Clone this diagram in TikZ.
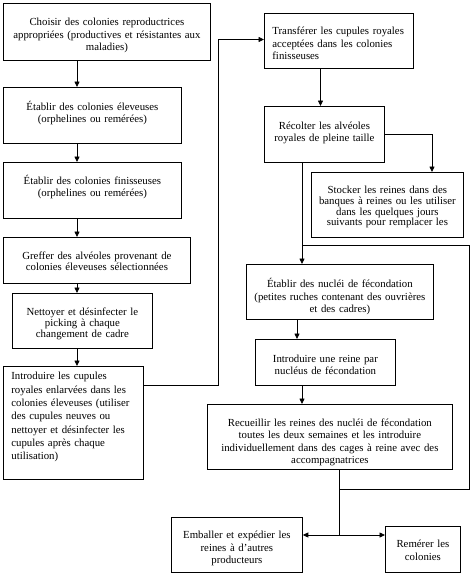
\documentclass[tikz,border=0pt]{standalone}
\usepackage{fontspec}
\setmainfont{Liberation Serif}
\usetikzlibrary{arrows.meta}
\begin{document}
\begin{tikzpicture}[x=1pt,y=-1pt,
  box/.style={draw, line width=0.8pt, anchor=north west, inner xsep=2pt, inner ysep=0pt, align=center},
  fs/.style={font=\fontsize{10.8}{#1}\selectfont},
  arr/.style={line width=0.8pt, -{Triangle[length=5.5pt,width=5pt]}},
  ln/.style={line width=0.8pt}]
\useasboundingbox (0,0) rectangle (474,576);
% left column
\node[box, fs=12.3, text width=203pt, text height=22.5pt, text depth=34.5pt] (b1) at (3,3)
  {Choisir des colonies reproductrices\\appropriées (productives et résistantes aux\\maladies)};
\node[box, fs=12, text width=174pt, text height=23.5pt, text depth=32.5pt] (b2) at (3,87)
  {Établir des colonies éleveuses\\(orphelines ou remérées)};
\node[box, fs=12, text width=174pt, text height=22.5pt, text depth=33.5pt] (b3) at (3,162)
  {Établir des colonies finisseuses\\(orphelines ou remérées)};
\node[box, fs=11, text width=183pt, text height=22.5pt, text depth=23.5pt] (b4) at (3,237)
  {Greffer des alvéoles provenant de\\colonies éleveuses sélectionnées};
\node[box, fs=11, text width=136pt, text height=22.5pt, text depth=32.5pt] (b5) at (12,293)
  {Nettoyer et désinfecter le\\picking à chaque\\changement de cadre};
\node[box, fs=13.3, align=left, inner xsep=8pt, text width=124pt, text height=13.5pt, text depth=99.5pt] (b6) at (3,366)
  {Introduire les cupules\\royales enlarvées dans les\\colonies éleveuses (utiliser\\des cupules neuves ou\\nettoyer et désinfecter les\\cupules après chaque\\utilisation)};
% right column
\node[box, fs=12.3, align=left, inner xsep=8pt, text width=133pt, text height=22pt, text depth=33.5pt] (b7) at (264,12.5)
  {Transférer les cupules royales\\acceptées dans les colonies\\finisseuses};
\node[box, fs=11.5, text width=116pt, text height=23.5pt, text depth=32.5pt] (b8) at (264,106)
  {Récolter les alvéoles\\royales de pleine taille};
\begin{scope}
  \clip (311,172) rectangle (463,227.5);
  \node[box, draw=none, fs=10.8, text width=148pt, text height=21pt, text depth=44pt] (b9) at (311,172)
    {Stocker les reines dans des\\banques à reines ou les utiliser\\dans les quelques jours\\suivants pour remplacer les};
\end{scope}
\draw[ln] (b9.north west) rectangle (b9.south east);
\node[box, fs=12.3, text width=183pt, text height=23.3pt, text depth=31.7pt] (b10) at (246,264)
  {Établir des nucléi de fécondation\\(petites ruches contenant des ouvrières\\et des cadres)};
\node[box, fs=12.3, text width=136pt, text height=22.7pt, text depth=23.3pt] (b11) at (255,339)
  {Introduire une reine par\\nucléus de fécondation};
\node[box, fs=12.5, text width=241pt, text height=22pt, text depth=43pt] (b12) at (207,404)
  {Recueillir les reines des nucléi de fécondation\\toutes les deux semaines et les introduire\\individuellement dans des cages à reine avec des\\accompagnatrices};
\node[box, fs=12.5, text width=127pt, text height=21.3pt, text depth=34pt] (b13) at (171,517)
  {Emballer et expédier les\\reines à d'autres\\producteurs};
\node[box, fs=12.3, text width=71pt, text height=21.5pt, text depth=24.5pt] (b14) at (385,526)
  {Remérer les\\colonies};
% coordinates
\coordinate (cl) at (77,0);
\coordinate (t1) at (218,385);
\coordinate (t2) at (218,39.5);
\coordinate (cr1) at (320.5,0);
\coordinate (cr2) at (432,0);
\coordinate (cr3) at (302,0);
\coordinate (cr4) at (297,0);
\coordinate (cr5) at (302,0);
\coordinate (lp1) at (339,489);
\coordinate (lp2) at (469,489);
\coordinate (lp3) at (469,245.5);
\coordinate (lp4) at (302,245.5);
\coordinate (jn) at (339,535);
% connectors
\draw[arr] (b1.south -| cl) -- (b2.north -| cl);
\draw[arr] (b2.south -| cl) -- (b3.north -| cl);
\draw[arr] (b3.south -| cl) -- (b4.north -| cl);
\draw[arr] (b4.south -| cl) -- (b5.north -| cl);
\draw[arr] (b5.south -| cl) -- (b6.north -| cl);
\draw[arr] (b6.east |- t1) -- (t1) -- (t2) -- (t2 -| b7.west);
\draw[arr] (b7.south -| cr1) -- (b8.north -| cr1);
\draw[arr] (b8.east) -- (b8.east -| cr2) -- (b9.north -| cr2);
\draw[arr] (b8.south -| cr3) -- (b10.north -| cr3);
\draw[arr] (b10.south -| cr4) -- (b11.north -| cr4);
\draw[arr] (b11.south -| cr5) -- (b12.north -| cr5);
\draw[ln] (b12.south -| lp1) -- (lp1) -- (lp2) -- (lp3) -- (lp4);
\draw[ln] (lp1) -- (jn);
\draw[arr] (jn) -- (jn -| b13.east);
\draw[arr] (jn) -- (jn -| b14.west);
\end{tikzpicture}
\end{document}
